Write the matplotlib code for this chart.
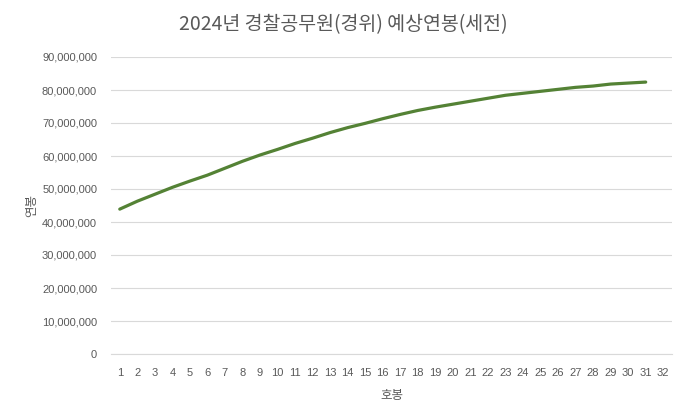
import matplotlib.pyplot as plt
from matplotlib.ticker import FuncFormatter

title = "2024년 경찰공무원(경위) 예상연봉(세전)"
x_label = "호봉"
y_label = "연봉"

categories = list(range(1, 33))
steps = list(range(1, 32))
salary = [43.9, 46.3, 48.4, 50.5, 52.4, 54.2, 56.3, 58.4, 60.3, 62.0,
          63.8, 65.4, 67.1, 68.6, 69.9, 71.3, 72.6, 73.8, 74.8, 75.7,
          76.6, 77.5, 78.4, 79.0, 79.6, 80.2, 80.8, 81.2, 81.8, 82.1, 82.4]
salary = [v * 1_000_000 for v in salary]

kr = ['Noto Sans CJK KR', 'DejaVu Sans']
grey = '#595959'

fig = plt.figure(figsize=(6.82, 4.11), dpi=100)
ax = fig.add_axes([111 / 682, 57 / 411, 561 / 682, 297 / 411])

ax.plot(steps, salary, color='#548235', linewidth=2.3, solid_capstyle='round')

ax.set_xlim(0.5, 32.5)
ax.set_ylim(0, 90_000_000)
ax.set_xticks(categories)
ax.set_yticks(range(0, 90_000_001, 10_000_000))
ax.yaxis.set_major_formatter(FuncFormatter(lambda v, p: f"{int(v):,}"))

ax.grid(axis='y', color='#d9d9d9', linewidth=0.8)
ax.set_axisbelow(True)
for s in ['top', 'right', 'left']:
    ax.spines[s].set_visible(False)
ax.spines['bottom'].set_color('#d9d9d9')
ax.spines['bottom'].set_linewidth(0.8)
ax.tick_params(length=0, labelsize=8, labelcolor=grey, pad=10)
for lbl in ax.get_xticklabels() + ax.get_yticklabels():
    lbl.set_family('Liberation Sans')

ax.set_xlabel(x_label, family=kr, fontsize=9, color=grey, labelpad=8)
ax.set_ylabel(y_label, family=kr, fontsize=9, color=grey, labelpad=3)
fig.text(343 / 682, 1 - 25 / 411, title, family=kr, fontsize=14, color=grey,
         ha='center', va='center')

fig.savefig('out.png', dpi=100)
